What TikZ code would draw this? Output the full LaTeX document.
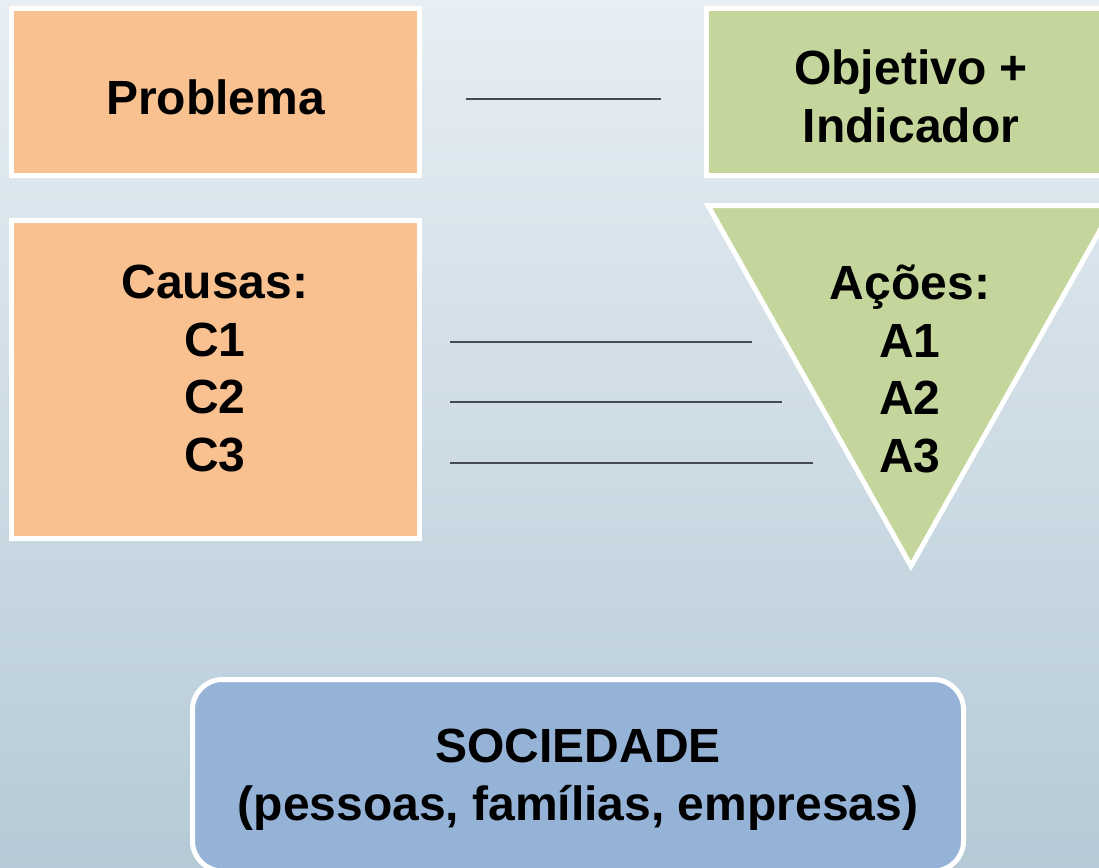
\documentclass[tikz,border=0pt]{standalone}
\usepackage{fontspec}
\setmainfont{Liberation Sans}
\definecolor{bgtop}{HTML}{E7EEF4}
\definecolor{bgbot}{HTML}{B5CAD6}
\definecolor{orangefill}{HTML}{F9C18F}
\definecolor{greenfill}{HTML}{C4D69C}
\definecolor{bluefill}{HTML}{95B3D7}
\definecolor{linegray}{HTML}{454B52}
\tikzset{
  boxshape/.style={draw=white, line width=5bp, line join=miter},
  lbl/.style={inner sep=0pt, anchor=base, align=center, font=\bfseries\fontsize{48bp}{57.5bp}\selectfont},
  rule/.style={draw=linegray, line width=1.4bp}
}
\begin{document}
\begin{tikzpicture}[x=1bp, y=-1bp]
\useasboundingbox (0,0) rectangle (1099,868);
\clip (0,0) rectangle (1099,868);
\shade[top color=bgtop, bottom color=bgbot] (0,0) rectangle (1099,868);
% boxes
\path[boxshape, fill=orangefill] (11.5,8.5) rectangle (419.5,175.5);
\path[boxshape, fill=orangefill] (11.5,220.5) rectangle (419.5,538.5);
\path[boxshape, fill=greenfill] (706.5,8.5) rectangle (1116,175.5);
\path[boxshape, fill=greenfill] (708,205.5) -- (1114,205.5) -- (911,566) -- cycle;
\path[boxshape, fill=bluefill, rounded corners=30bp] (192.5,679.5) rectangle (963.5,871);
% texts (anchor = baseline of last line)
\node[lbl] (problema) at (215.5,114) {Problema};
\node[lbl] (objetivo) at (911,142) {Objetivo +\\Indicador};
\node[lbl] (causas) at (215,471) {Causas:\\C1\\C2\\C3};
\node[lbl] (acoes) at (910,472) {Ações:\\A1\\A2\\A3};
\node[lbl] (sociedade) at (578,820) {SOCIEDADE\\(pessoas, famílias, empresas)};
% lines
\coordinate (p0) at (466,99);  \coordinate (p1) at (661,99);
\coordinate (c1a) at (450,342); \coordinate (c1b) at (752,342);
\coordinate (c2a) at (450,402); \coordinate (c2b) at (782,402);
\coordinate (c3a) at (450,463); \coordinate (c3b) at (813,463);
\draw[rule] (p0) -- (p1);
\draw[rule] (c1a) -- (c1b);
\draw[rule] (c2a) -- (c2b);
\draw[rule] (c3a) -- (c3b);
\end{tikzpicture}
\end{document}
